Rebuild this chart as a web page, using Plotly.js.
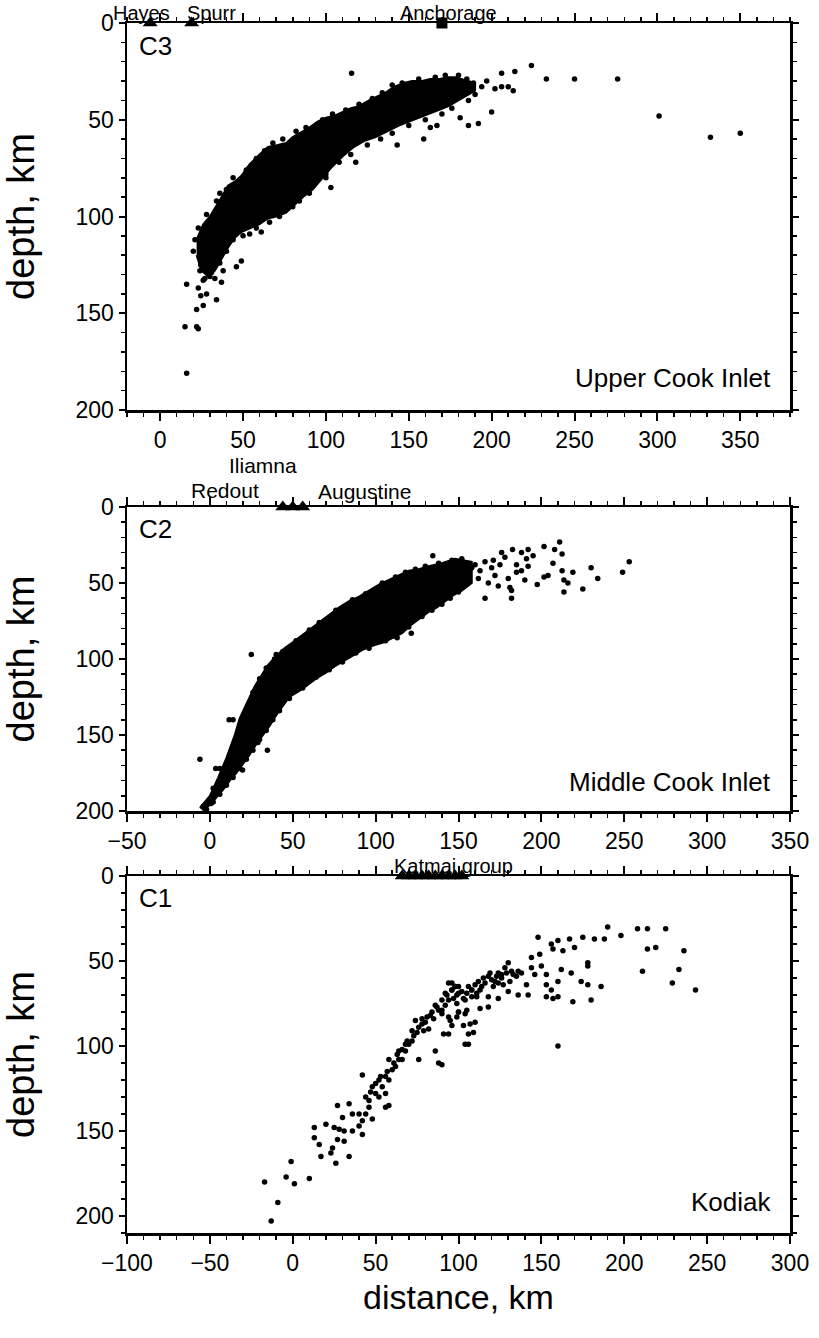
<!DOCTYPE html>
<html>
<head>
<meta charset="utf-8">
<script src="https://cdn.plot.ly/plotly-3.0.1.min.js"></script>
<style>html,body{margin:0;padding:0;background:#fff;}#chart{width:819px;height:1338px;}</style>
</head>
<body>
<div id="chart"></div>
<script>
// ---------- C3 : Upper Cook Inlet ----------
const c3BandUpperX = [22, 26, 30, 33, 37, 41, 45, 49, 54, 60, 65, 71, 76, 80, 84, 90, 95, 100, 105, 110, 115, 120, 126, 131, 136, 141, 147, 152, 158, 163, 168, 174, 178, 182, 186, 190];
const c3BandUpperY = [112, 104, 100, 96, 90, 84, 82, 79, 73, 68, 64, 63, 62, 59, 57, 54, 51, 49, 48, 46, 44, 43, 40, 38, 36, 33, 31, 30, 30, 29, 29, 28, 28, 29, 30, 31];
const c3BandLowerX = [190, 186, 180, 174, 168, 162, 156, 150, 144, 137, 130, 123, 117, 110, 103, 97, 92, 86, 81, 76, 70, 65, 60, 55, 49, 45, 41, 37, 33, 29, 25, 22];
const c3BandLowerY = [35, 37, 40, 43, 45, 47, 49, 51, 53, 56, 59, 61, 64, 69, 75, 81, 86, 90, 94, 98, 100, 101, 104, 106, 108, 111, 116, 122, 128, 131, 128, 120];
const c3DotX = [16, 15, 22, 23, 16, 23, 22, 26, 24.5, 34, 27, 31, 24.5, 37, 38, 46, 49, 115.5, 224, 233, 250, 276, 301, 332, 350, 206, 214, 213, 210, 200, 192, 186, 181, 159, 167, 163, 143, 118, 103, 100, 95, 84, 61, 54, 50,
  20, 21, 23, 28, 34, 36, 40, 44, 52, 58, 63, 68, 74, 82, 88, 98, 104, 112, 120, 128, 134, 140, 146, 156, 166, 172, 180, 185, 189, 194, 197, 202, 206, 190, 186, 176, 170, 160, 150, 140, 133, 125, 115, 108, 100, 90, 80, 72, 66, 58, 44, 40, 36, 30, 26, 33, 28, 24];
const c3DotY = [181, 157, 157, 158, 135, 137, 148, 146, 141, 143, 132, 129, 125, 134, 128, 126, 123, 26, 22, 29, 29, 29, 48, 59, 57, 26, 25, 35, 33, 46, 52, 53, 49, 60, 53, 54, 63, 72, 85, 78, 80, 92, 108, 109, 110,
  118, 112, 106, 99, 92, 88, 86, 80, 76, 70, 66, 62, 60, 56, 54, 50, 47, 45, 42, 39, 36, 32, 31, 29, 28, 27, 27, 29, 31, 33, 30, 34, 33, 37, 40, 44, 47, 50, 53, 57, 60, 63, 68, 72, 80, 88, 95, 100, 103, 106, 112, 118, 124, 131, 133, 132, 140, 128];
const c3VolcanoX = [-6, 19];
const c3VolcanoY = [0, 0];
const c3CityX = [170];
const c3CityY = [0];

// ---------- C2 : Middle Cook Inlet ----------
const c2BandUpperX = [-6, 0, 5, 10, 15, 18, 21, 24, 27, 31, 35, 40, 45, 50, 56, 62, 67, 72, 78, 84, 90, 96, 102, 108, 114, 120, 126, 132, 140, 148, 158];
const c2BandUpperY = [198, 190, 178, 165, 150, 139, 132, 125, 118, 111, 104, 98, 93, 89, 84, 79, 75, 71, 66, 62, 59, 55, 51, 48, 45, 42, 41, 39, 37, 34, 36];
const c2BandLowerX = [158, 152, 147, 142, 137, 132, 127, 121, 116, 110, 105, 99, 92, 86, 81, 75, 70, 64, 59, 54, 48, 44, 40, 36, 32, 28, 24, 20, 16, 12, 8, 4, 0, -4];
const c2BandLowerY = [50, 55, 58, 62, 66, 69, 73, 78, 83, 86, 89, 91, 94, 98, 101, 105, 109, 113, 117, 121, 125, 131, 137, 144, 150, 156, 163, 169, 175, 180, 186, 191, 196, 200];
const c2DotX = [-6, 3.5, 6, 0.7, 3, 25, 40, 11.6, 14, 19.7, 34.7, 29, 134.5, 176, 182.6, 192, 201.6, 211, 208, 212.5, 207, 212.5, 219, 230, 234, 249, 253, 225, 213.6, 213.6, 216, 197.5, 201.6, 204, 181, 182, 166, 191, 192, 185, 121.5, 113,
  160, 163, 166, 170, 172, 175, 178, 168, 174, 180, 185, 188, 190, 182, 162, 158, 195, 188, 171,
  -4, 2, 7, 12, 16, 19, 22, 26, 30, 34, 39, 44, 52, 60, 66, 76, 86, 94, 104, 112, 118, 124, 130, 138, 146, 152, 150, 145, 140, 134, 128, 120, 112, 106, 96, 88, 80, 72, 64, 56, 48, 42, 38, 34, 30, 26, 22, 18, 14, 10, 6, 2, -2];
const c2DotY = [166, 172, 172, 195, 190, 97, 97, 140, 140, 173, 160, 155, 32, 30, 28, 28, 26, 23, 28, 31, 37, 42, 43, 40, 47, 43, 36, 54, 56, 48, 50, 51, 46, 45, 53, 60, 60, 34, 39, 43, 83, 86,
  38, 42, 36, 40, 45, 38, 33, 50, 52, 47, 38, 42, 48, 55, 47, 40, 32, 30, 35,
  197, 185, 178, 165, 152, 143, 135, 122, 113, 106, 100, 95, 88, 81, 76, 68, 61, 57, 50, 46, 43, 41, 39, 37, 35, 34, 56, 60, 64, 68, 72, 79, 85, 88, 93, 96, 102, 107, 112, 119, 126, 134, 140, 147, 153, 160, 166, 172, 178, 183, 189, 194, 199];
const c2VolcanoX = [44, 50, 56];
const c2VolcanoY = [0, 0, 0];

// ---------- C1 : Kodiak ----------
const c1DotX = [-17, -13, -9, -4, 1, -1, 10, 13, 13, 20, 16, 17, 26, 34, 23, 24, 27, 31, 25, 28, 31, 42, 36, 30, 27, 34, 36, 40, 42, 46, 48, 58, 56,
  48, 52, 56, 60, 64, 68, 70, 74, 79, 76, 86, 90, 86, 82, 90, 94, 96, 98, 105, 107, 106, 109, 100, 105, 111, 113, 95, 91,
  62, 66, 64, 68, 72, 72, 76, 78, 81, 84, 87, 90, 93, 96, 100, 102, 106, 50, 54, 56, 58, 52, 46, 44, 42, 40, 58,
  44, 47, 50, 53, 57, 61, 63, 66, 69, 73, 75, 78, 80, 83, 85, 88, 92, 97, 99, 103, 108, 110,
  88, 94, 104, 106, 103, 110, 113, 118, 118, 124, 94, 98, 100, 104, 108, 118, 124, 128, 132, 136, 135, 130, 130, 136, 142, 141, 144, 144, 150, 149, 148, 146, 153, 153, 156, 157, 160, 153, 160, 162, 163, 157, 156, 160, 167, 170, 175, 182, 188, 190, 198, 208, 214, 225, 214, 219, 236, 233, 229, 243, 211, 178, 178, 168, 174, 178, 186, 180, 169, 160,
  92, 96, 100, 99, 104, 108, 111, 114, 116, 120, 123, 126, 121, 129, 124, 99, 90, 94, 96, 112, 115, 119, 122, 126, 133, 138, 127, 131];
const c1DotY = [180, 203, 192, 177, 181, 168, 178, 154, 148, 146, 158, 165, 169, 165, 163, 160, 155, 156, 148, 149, 150, 152, 150, 142, 135, 134, 140, 140, 117, 132, 143, 135, 136,
  124, 120, 118, 114, 108, 103, 99, 85, 91, 108, 103, 111, 76, 90, 81, 73, 63, 65, 69, 87, 99, 92, 80, 79, 71, 67, 85, 93,
  112, 108, 103, 99, 97, 91, 89, 87, 83, 80, 77, 73, 70, 67, 65, 68, 65, 128, 124, 128, 120, 130, 136, 140, 144, 147, 108,
  130, 127, 122, 118, 115, 110, 105, 102, 97, 94, 92, 84, 86, 82, 84, 79, 76, 72, 70, 72, 67, 64,
  110, 93, 99, 93, 88, 86, 78, 77, 71, 72, 63, 65, 80, 81, 67, 59, 57, 54, 56, 56, 59, 51, 68, 70, 70, 64, 48, 54, 53, 46, 36, 58, 58, 64, 67, 72, 71, 71, 62, 55, 44, 43, 40, 38, 37, 42, 36, 37, 37, 30, 35, 31, 31, 31, 43, 42, 44, 55, 63, 67, 56, 51, 53, 57, 62, 64, 65, 73, 74, 100,
  69, 67, 69, 75, 73, 71, 69, 65, 63, 61, 59, 58, 65, 57, 63, 83, 79, 83, 88, 62, 60, 57, 62, 60, 58, 57, 64, 62];
const c1VolcanoX = [66, 70, 74, 78, 82, 86, 90, 94, 98, 102];
const c1VolcanoY = [0, 0, 0, 0, 0, 0, 0, 0, 0, 0];

// ---------- axis ticks ----------
const depthTicks = [0, 50, 100, 150, 200];

// ---------- build ----------
const FONT = 'Liberation Sans, Arial, Helvetica, sans-serif';
function band(ux, uy, lx, ly, xa, ya) {
  return {x: ux.concat(lx), y: uy.concat(ly), xaxis: xa, yaxis: ya, mode: 'lines', fill: 'toself',
    fillcolor: 'black', line: {color: 'black', width: 2}, hoverinfo: 'skip', showlegend: false};
}
function dots(x, y, xa, ya) {
  return {x: x, y: y, xaxis: xa, yaxis: ya, mode: 'markers', type: 'scatter',
    marker: {color: 'black', size: 5.5}, showlegend: false};
}
function marks(x, y, xa, ya, sym, size) {
  return {x: x, y: y, xaxis: xa, yaxis: ya, mode: 'markers', type: 'scatter', cliponaxis: false,
    marker: {color: 'black', size: size, symbol: sym}, showlegend: false};
}
const traces = [
  band(c3BandUpperX, c3BandUpperY, c3BandLowerX, c3BandLowerY, 'x', 'y'),
  dots(c3DotX, c3DotY, 'x', 'y'),
  marks(c3VolcanoX, c3VolcanoY, 'x', 'y', 'triangle-up', 13),
  marks(c3CityX, c3CityY, 'x', 'y', 'square', 11),
  band(c2BandUpperX, c2BandUpperY, c2BandLowerX, c2BandLowerY, 'x2', 'y2'),
  dots(c2DotX, c2DotY, 'x2', 'y2'),
  marks(c2VolcanoX, c2VolcanoY, 'x2', 'y2', 'triangle-up', 13),
  dots(c1DotX, c1DotY, 'x3', 'y3'),
  marks(c1VolcanoX, c1VolcanoY, 'x3', 'y3', 'triangle-up', 13)
];

const H = 1338, W = 819;
const xdom = [127 / W, 790 / W];
const TICKFONT = {family: FONT, size: 23, color: 'black'};
function xax(range, anchor, title) {
  const a = {domain: xdom, range: range, anchor: anchor, tick0: 0, dtick: 50, ticks: 'outside', ticklen: 8, tickwidth: 2,
    tickcolor: 'black', showline: true, linewidth: 2.5, linecolor: 'black', mirror: 'ticks', showgrid: false, zeroline: false,
    tickfont: TICKFONT,
    minor: {tick0: 0, dtick: 10, ticks: 'outside', ticklen: 4, tickwidth: 1.5, tickcolor: 'black', showgrid: false}};
  if (title) a.title = {text: title, font: {family: FONT, size: 34, color: 'black'}, standoff: 10};
  return a;
}
function yax(top, bottom, range, anchor) {
  return {domain: [1 - bottom / H, 1 - top / H], range: range, anchor: anchor, tickvals: depthTicks, ticks: 'outside', ticklen: 6, tickwidth: 2,
    tickcolor: 'black', showline: true, linewidth: 2.5, linecolor: 'black', mirror: 'ticks', showgrid: false, zeroline: false,
    tickfont: TICKFONT,
    minor: {tick0: 0, dtick: 10, ticks: 'outside', ticklen: 4, tickwidth: 1.5, tickcolor: 'black', showgrid: false},
    title: {text: 'depth, km', font: {family: FONT, size: 38, color: 'black'}, standoff: 32}};
}
function txt(text, x, y, xref, yref, xanchor, yanchor, size, yshift) {
  return {text: text, x: x, y: y, xref: xref, yref: yref, xanchor: xanchor, yanchor: yanchor, showarrow: false,
    yshift: yshift || 0, font: {family: FONT, size: size, color: 'black'}};
}
const layout = {
  width: W, height: H, margin: {l: 0, r: 0, t: 0, b: 0}, paper_bgcolor: 'white', plot_bgcolor: 'white', showlegend: false,
  xaxis: xax([-20, 380], 'y'),
  yaxis: yax(23, 410, [200, 0], 'x'),
  xaxis2: xax([-50, 350], 'y2'),
  yaxis2: yax(507, 811, [200, 0], 'x2'),
  xaxis3: xax([-100, 300], 'y3', 'distance, km'),
  yaxis3: yax(876, 1233, [210, 0], 'x3'),
  annotations: [
    txt('C3', 0.015, 0.985, 'x domain', 'y domain', 'left', 'top', 26),
    txt('C2', 0.015, 0.985, 'x2 domain', 'y2 domain', 'left', 'top', 26),
    txt('C1', 0.015, 0.985, 'x3 domain', 'y3 domain', 'left', 'top', 26),
    txt('Upper Cook Inlet', 0.975, 0.04, 'x domain', 'y domain', 'right', 'bottom', 26),
    txt('Middle Cook Inlet', 0.975, 0.04, 'x2 domain', 'y2 domain', 'right', 'bottom', 26),
    txt('Kodiak', 0.975, 0.04, 'x3 domain', 'y3 domain', 'right', 'bottom', 26),
    txt('Hayes', -11, 1, 'x', 'y domain', 'center', 'bottom', 20, -3),
    txt('Spurr', 31, 1, 'x', 'y domain', 'center', 'bottom', 20, -3),
    txt('Anchorage', 174, 1, 'x', 'y domain', 'center', 'bottom', 20, -3),
    txt('Iliamna', 32, 1, 'x2', 'y2 domain', 'center', 'bottom', 21, 28),
    txt('Redout', 9, 1, 'x2', 'y2 domain', 'center', 'bottom', 21, 3),
    txt('Augustine', 93, 1, 'x2', 'y2 domain', 'center', 'bottom', 21, 2),
    txt('Katmai group', 97, 1, 'x3', 'y3 domain', 'center', 'bottom', 20, -3)
  ]
};
Plotly.newPlot('chart', traces, layout, {displayModeBar: false, staticPlot: true});
</script>
</body>
</html>
